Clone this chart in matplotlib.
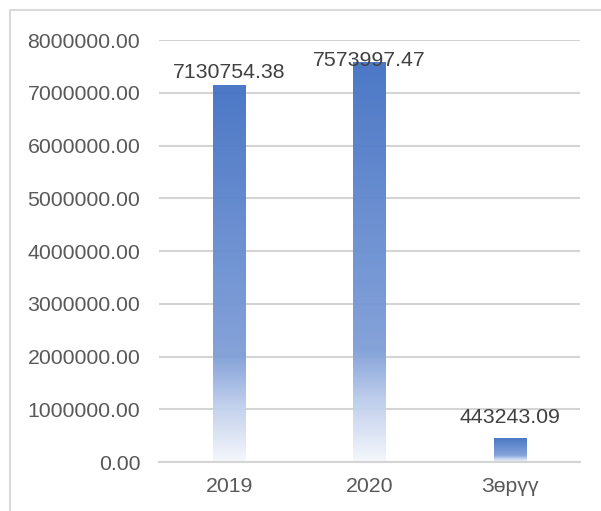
import numpy as np
import matplotlib
matplotlib.use("Agg")
import matplotlib.pyplot as plt
from matplotlib.colors import LinearSegmentedColormap
from matplotlib.lines import Line2D

plt.rcParams['font.family'] = ['Liberation Sans', 'DejaVu Sans']

# Data
categories = ["2019", "2020", "Зөрүү"]
values = [7130754.38, 7573997.47, 443243.09]
value_labels = ["7130754.38", "7573997.47", "443243.09"]
y_ticks = [0, 1000000, 2000000, 3000000, 4000000, 5000000, 6000000, 7000000, 8000000]

# Styling
label_gap_px = [8, -3.5, 15.5]
bar_width = 0.23
tick_color = "#595959"
label_color = "#404040"
grid_color = "#d4d4d4"
fs = 15.3

W, H = 601, 511
fig = plt.figure(figsize=(W / 100, H / 100), dpi=100)
ax = fig.add_axes([159 / W, 49 / H, (580 - 159) / W, (462 - 40) / H])

x = np.arange(len(categories))
bars = ax.bar(x, values, width=bar_width, color="none", edgecolor="none", zorder=2)

# vertical gradient fill for each bar: blue at the top fading to near white
grad_cmap = LinearSegmentedColormap.from_list(
    "bar_fade",
    [(0.0, (245/255, 247/255, 252/255)),
     (0.15, (190/255, 206/255, 236/255)),
     (0.28, (128/255, 159/255, 216/255)),
     (1.0, (68/255, 114/255, 196/255))])
grad = np.linspace(0, 1, 256).reshape(-1, 1)
for b in bars:
    x0, w, h = b.get_x(), b.get_width(), b.get_height()
    ax.imshow(grad, cmap=grad_cmap, origin="lower", aspect="auto",
              extent=[x0, x0 + w, 0, h], interpolation="bilinear",
              zorder=2, alpha=0.96)

ax.set_xlim(-0.5, len(categories) - 0.5)
ax.set_ylim(0, 8000000)

ax.set_yticks(y_ticks)
ax.set_yticklabels([f"{v:.2f}" for v in y_ticks])
ax.set_xticks(x)
ax.set_xticklabels(categories)
ax.tick_params(axis="y", length=0, pad=13.5, labelsize=fs, labelcolor=tick_color)
ax.tick_params(axis="x", length=0, pad=11, labelsize=fs, labelcolor=tick_color)

ax.set_axisbelow(True)
ax.yaxis.grid(True, color=grid_color, linewidth=1.5)
for side in ["left", "right", "top"]:
    ax.spines[side].set_visible(False)
ax.spines["bottom"].set_color(grid_color)
ax.spines["bottom"].set_linewidth(1.5)

for xi, v, lab, gap in zip(x, values, value_labels, label_gap_px):
    ax.annotate(lab, (xi, v), xytext=(0, gap * 0.72), textcoords="offset points",
                ha="center", va="baseline", fontsize=fs, color=label_color,
                zorder=5, annotation_clip=False)

# chart frame
fig.add_artist(Line2D([9.5 / W, 9.5 / W, 1.0], [0.0, 1 - 10.5 / H, 1 - 10.5 / H],
                      transform=fig.transFigure, color="#d9d9d9", linewidth=1.5))

fig.savefig("out.png", dpi=100)
